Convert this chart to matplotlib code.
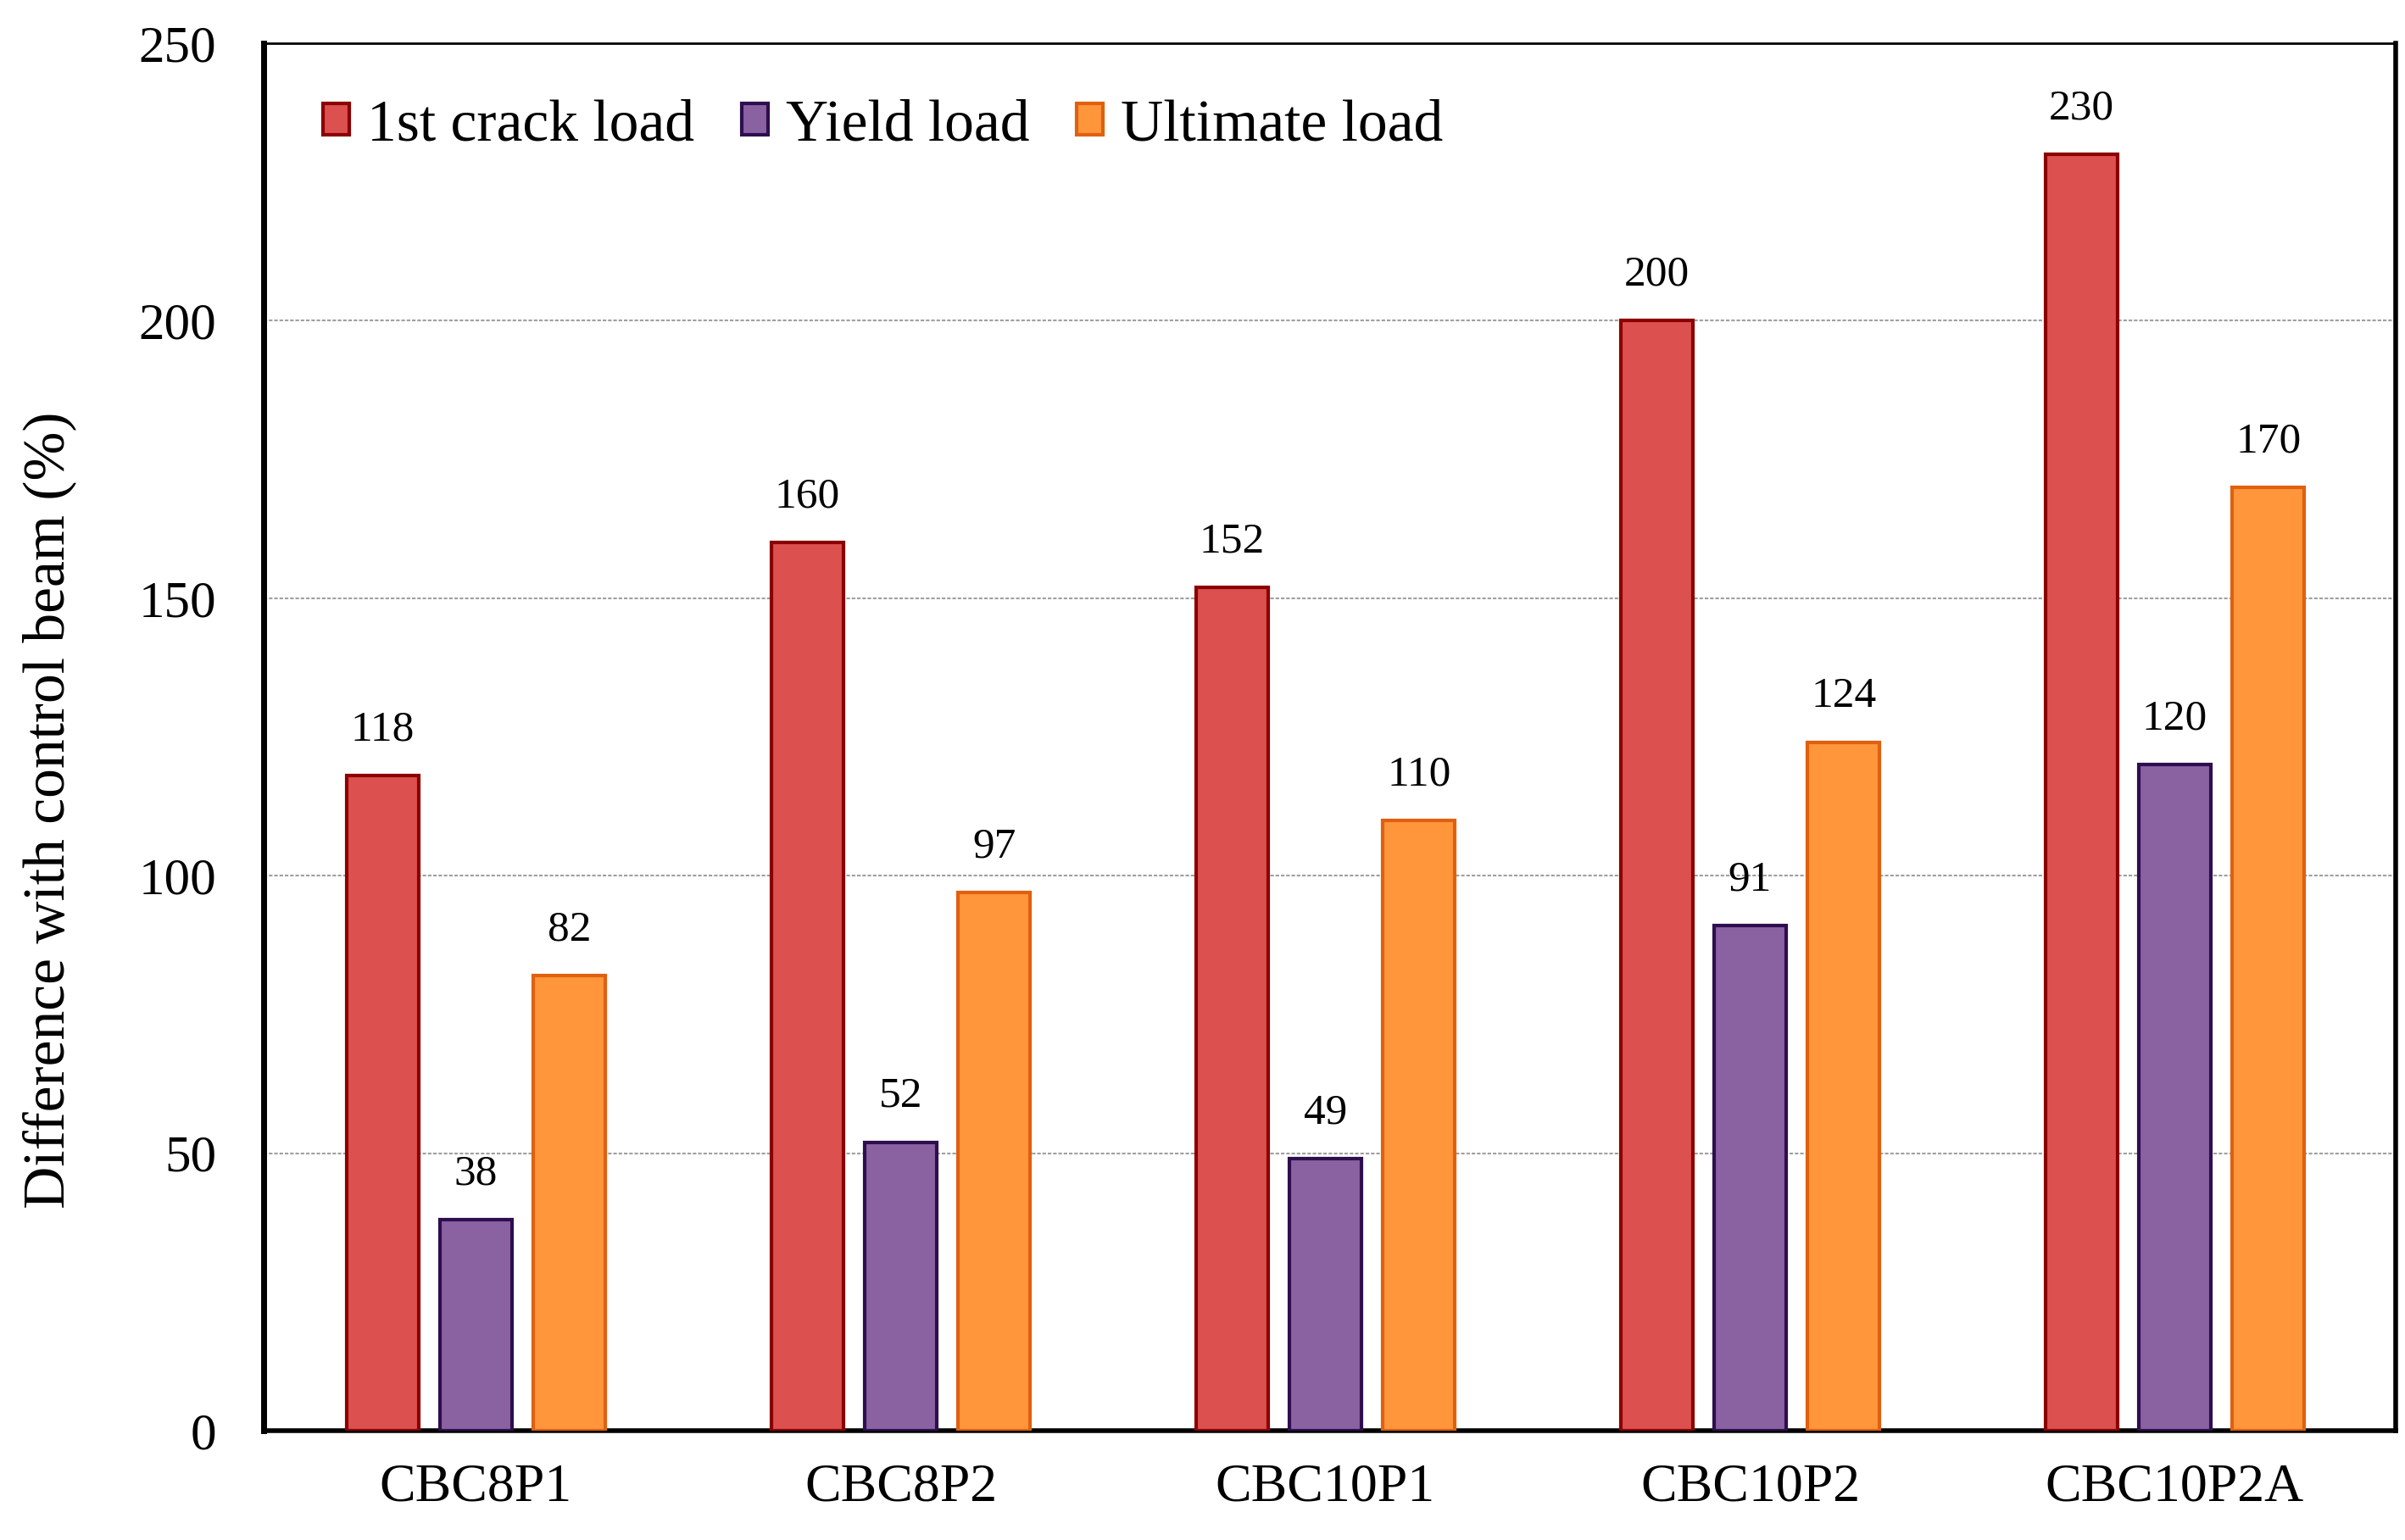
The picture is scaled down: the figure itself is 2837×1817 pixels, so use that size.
import numpy as np
import matplotlib.pyplot as plt

beams = ["CBC8P1", "CBC8P2", "CBC10P1", "CBC10P2", "CBC10P2A"]
first_crack = [118, 160, 152, 200, 230]
yield_load = [38, 52, 49, 91, 120]
ultimate = [82, 97, 110, 124, 170]

series = [
    ("1st crack load", first_crack, "#DC5050", "#8B0000"),
    ("Yield load", yield_load, "#8A62A2", "#2E0E4E"),
    ("Ultimate load", ultimate, "#FF963C", "#E06010"),
]

plt.rcParams['font.family'] = ['Liberation Serif', 'DejaVu Serif']

fig = plt.figure(figsize=(28.37, 18.17), dpi=100)
ax = fig.add_axes([311 / 2837, 1 - 1688 / 1817, (2826 - 311) / 2837, (1688 - 51) / 1817])

x = np.arange(len(beams))
width = 0.17
step = 0.22
for i, (name, vals, fc, ec) in enumerate(series):
    pos = x + (i - 1) * step
    bars = ax.bar(pos, vals, width, color=fc, edgecolor=ec, linewidth=3, label=name, zorder=3)
    for b, v in zip(bars, vals):
        ax.annotate(str(v), (b.get_x() + b.get_width() / 2, v), xytext=(0, 22),
                    textcoords="offset points", ha="center", va="bottom", fontsize=37)

ax.set_xlim(-0.5, 4.52)
ax.set_ylim(0, 250)
ax.set_yticks([0, 50, 100, 150, 200, 250])
ax.set_xticks(x)
ax.set_xticklabels(beams)
ax.tick_params(axis="y", length=0, labelsize=44, pad=40)
ax.tick_params(axis="x", length=0, labelsize=46, pad=28)
ax.yaxis.grid(True, color="#A0A0A0", linewidth=1.5, linestyle=(0, (2, 1)), zorder=0)
ax.set_axisbelow(True)

ax.spines["left"].set_linewidth(5)
ax.spines["bottom"].set_linewidth(4)
ax.spines["right"].set_linewidth(4)
ax.spines["top"].set_linewidth(2)

ax.set_ylabel("Difference with control beam (%)", fontsize=50)
ax.yaxis.set_label_coords(-0.088, 0.447)

ax.legend(loc="upper left", ncol=3, frameon=False, fontsize=50, handlelength=0.45, handleheight=0.45,
          handletextpad=0.3, columnspacing=0.8, bbox_to_anchor=(0.003, 0.998))

fig.savefig("out.png", dpi=100)
